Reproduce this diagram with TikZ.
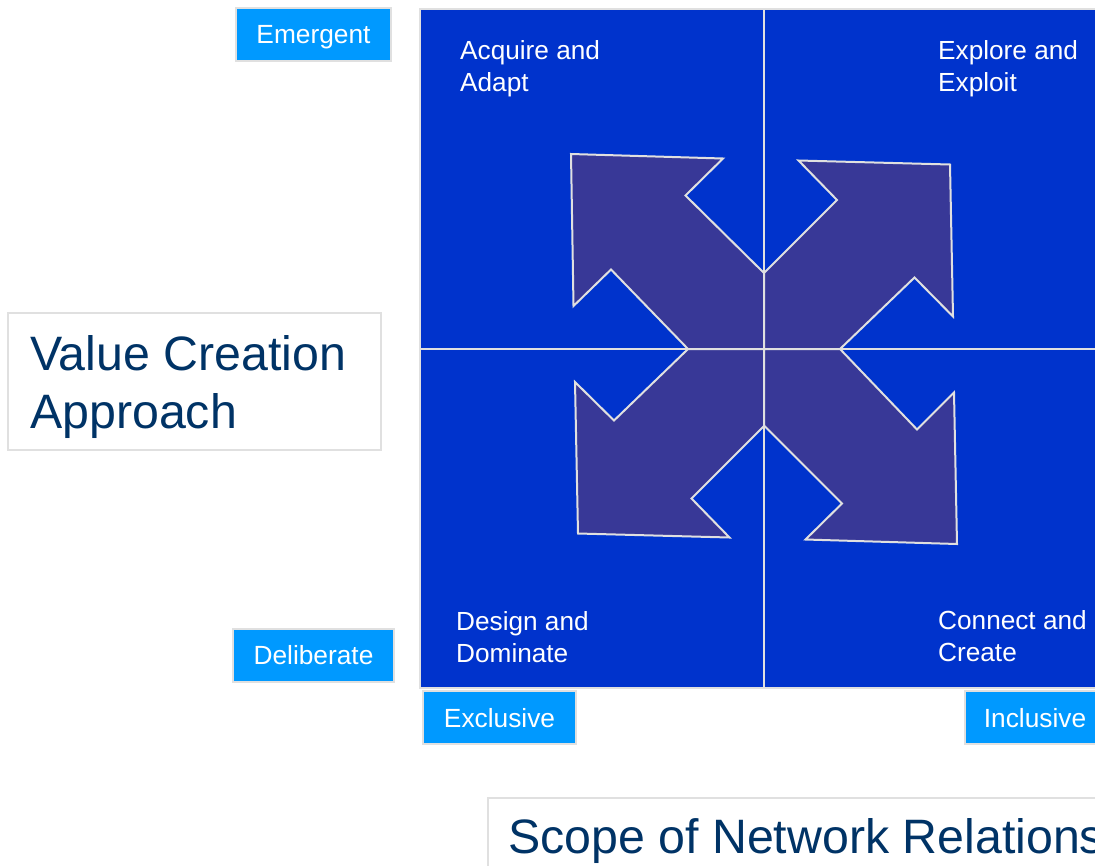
\documentclass[tikz,border=0pt]{standalone}
\usepackage{fontspec}
\setmainfont{Liberation Sans}
\definecolor{quadblue}{HTML}{0033CC}
\definecolor{arrowfill}{HTML}{383897}
\definecolor{edgegray}{HTML}{E0E0E0}
\definecolor{tagblue}{HTML}{0099FF}
\definecolor{titleblue}{HTML}{003366}
\begin{document}
\begin{tikzpicture}[x=1pt,y=-1pt,
  tag/.style={fill=tagblue,draw=edgegray,line width=2pt,text=white,inner sep=0pt,
    font=\fontsize{26.3}{30}\selectfont},
  quadtext/.style={text=white,align=left,anchor=west,inner sep=0pt,
    font=\fontsize{26.2}{32}\selectfont},
  titlebox/.style={fill=white,draw=edgegray,line width=2pt},
  titletext/.style={text=titleblue,align=left,anchor=west,inner sep=0pt,
    font=\fontsize{48.3}{58}\selectfont},
  bigarrow/.style={fill=arrowfill,draw=edgegray,line width=2pt,line join=miter},
  divider/.style={draw=edgegray,line width=2pt}]
\useasboundingbox (0,0) rectangle (1095,865);
\clip (0,0) rectangle (1095,865);

% quadrant field
\draw[fill=quadblue,draw=edgegray,line width=2pt] (420,9) rectangle (1110,688);

% four outward arrows from the centre
\draw[bigarrow] (571,154) -- (723,158.5) -- (685.5,195.5) -- (764,273) -- (764,349) -- (688,349) -- (611,269.5) -- (573.5,306) -- cycle;
\draw[bigarrow] (798.5,160.5) -- (950,164.5) -- (953,316.5) -- (914.5,277.5) -- (840,349) -- (764,349) -- (764,273) -- (837,200) -- cycle;
\draw[bigarrow] (575,382) -- (614,420.5) -- (688,349) -- (764,349) -- (764,426) -- (691.5,498.5) -- (729.5,537.5) -- (578,533.5) -- cycle;
\draw[bigarrow] (840,349) -- (917,429.5) -- (954,392.5) -- (957,544) -- (805.5,539.5) -- (842,503.5) -- (764,425.5) -- (764,349) -- cycle;

% axes through the centre
\coordinate (vtop) at (764,9);
\coordinate (vbot) at (764,688);
\coordinate (hleft) at (420,349);
\coordinate (hright) at (1110,349);
\draw[divider] (vtop) -- (vbot);
\draw[divider] (hleft) -- (hright);

% quadrant names
\node[quadtext] (aa) at (460,69) {Acquire and\\Adapt};
\node[quadtext] (ee) at (938,69) {Explore and\\Exploit};
\node[quadtext] (dd) at (456,637) {Design and\\Dominate};
\node[quadtext] (cc) at (938,636) {Connect and\\Create};

% axis tags
\node[tag,minimum width=155pt,minimum height=53pt,text depth=-2pt] (emergent) at (313.5,34.5) {Emergent};
\node[tag,minimum width=161pt,minimum height=53pt,text depth=-2pt] (deliberate) at (313.5,655) {Deliberate};
\node[tag,minimum width=153pt,minimum height=53pt,text depth=-2pt] (exclusive) at (499.5,717.5) {Exclusive};
\node[tag,minimum width=150pt,minimum height=53pt,text depth=-2pt] (inclusive) at (1040,717.5) {\hspace*{-10pt}Inclusive};

% axis titles
\node[titlebox,minimum width=373pt,minimum height=137pt] (vcbox) at (194.5,381.5) {};
\node[titletext] (vc) at (30,387) {Value Creation\\Approach};
\node[titlebox,minimum width=640pt,minimum height=110pt,anchor=north west] (snbox) at (487,797) {};
\node[titletext] (sn) at (508,841) {Scope of Network Relations};
\end{tikzpicture}
\end{document}
